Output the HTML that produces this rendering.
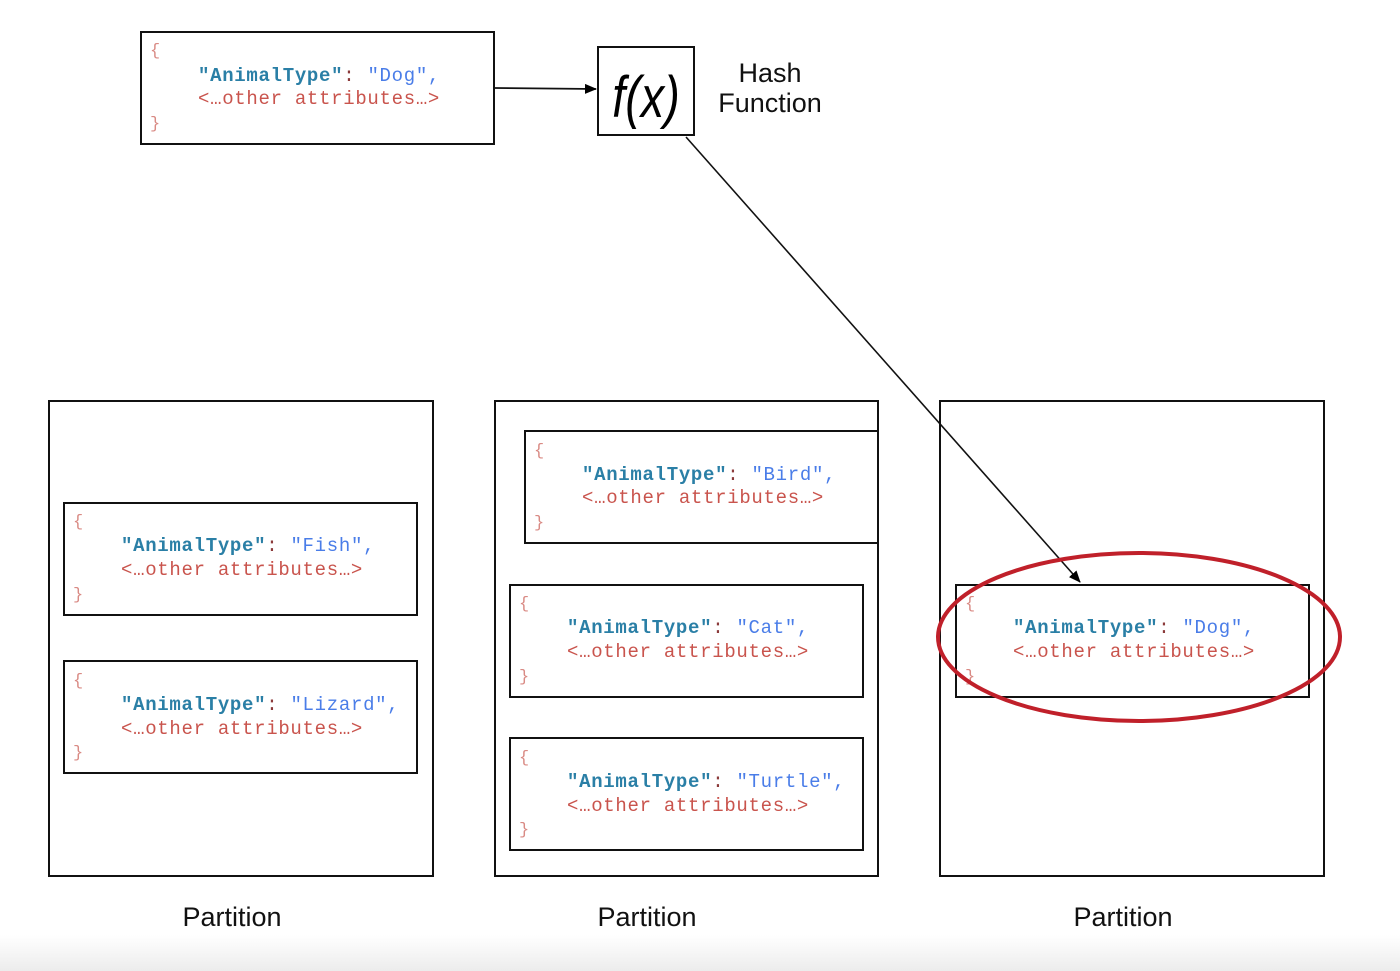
<!DOCTYPE html>
<html><head><meta charset="utf-8"><style>
html,body{margin:0;padding:0;background:#fff;}
svg{display:block}
.m{font-family:"Liberation Mono",monospace;font-size:19px;letter-spacing:0.7px;}
.k{fill:#2a7fa6;font-weight:bold}
.c{fill:#8b3a3a}
.v{fill:#4a7de8}
.r{fill:#c9544d}
.b{fill:#d98a84;font-size:17px}
.s{font-family:"Liberation Sans",sans-serif;font-size:27px;fill:#111;}
</style></head><body>
<svg width="1400" height="971" viewBox="0 0 1400 971" xmlns="http://www.w3.org/2000/svg">
<defs>
<linearGradient id="g" x1="0" y1="0" x2="0" y2="1">
<stop offset="0" stop-color="#ffffff"/><stop offset="1" stop-color="#ececec"/>
</linearGradient>
<marker id="a" markerWidth="12" markerHeight="10" refX="11" refY="5" orient="auto" markerUnits="userSpaceOnUse">
<path d="M0,0 L12,5 L0,10 z" fill="#000"/>
</marker>
</defs>
<rect width="1400" height="971" fill="#fff"/>
<rect y="935" width="1400" height="36" fill="url(#g)"/>

<g fill="none" stroke="#111" stroke-width="2">
<rect x="49" y="401" width="384" height="475"/>
<rect x="495" y="401" width="383" height="475"/>
<rect x="940" y="401" width="384" height="475"/>
<rect x="141" y="32" width="353" height="112"/>
<rect x="64" y="503" width="353" height="112"/>
<rect x="64" y="661" width="353" height="112"/>
<rect x="525" y="431" width="353" height="112"/>
<rect x="510" y="585" width="353" height="112"/>
<rect x="510" y="738" width="353" height="112"/>
<rect x="956" y="585" width="353" height="112"/>
<rect x="598" y="47" width="96" height="88"/>
</g>

<g class="m">
<text x="150" y="55" class="b">{</text>
<text x="198" y="81"><tspan class="k">"AnimalType"</tspan><tspan class="c">: </tspan><tspan class="v">"Dog",</tspan></text>
<text x="198" y="104" class="r">&lt;…other attributes…&gt;</text>
<text x="150" y="128" class="b">}</text>

<text x="73" y="526" class="b">{</text>
<text x="121" y="551"><tspan class="k">"AnimalType"</tspan><tspan class="c">: </tspan><tspan class="v">"Fish",</tspan></text>
<text x="121" y="575" class="r">&lt;…other attributes…&gt;</text>
<text x="73" y="599" class="b">}</text>

<text x="73" y="685" class="b">{</text>
<text x="121" y="710"><tspan class="k">"AnimalType"</tspan><tspan class="c">: </tspan><tspan class="v">"Lizard",</tspan></text>
<text x="121" y="734" class="r">&lt;…other attributes…&gt;</text>
<text x="73" y="757" class="b">}</text>

<text x="534" y="455" class="b">{</text>
<text x="582" y="480"><tspan class="k">"AnimalType"</tspan><tspan class="c">: </tspan><tspan class="v">"Bird",</tspan></text>
<text x="582" y="503" class="r">&lt;…other attributes…&gt;</text>
<text x="534" y="527" class="b">}</text>

<text x="519" y="608" class="b">{</text>
<text x="567" y="633"><tspan class="k">"AnimalType"</tspan><tspan class="c">: </tspan><tspan class="v">"Cat",</tspan></text>
<text x="567" y="657" class="r">&lt;…other attributes…&gt;</text>
<text x="519" y="681" class="b">}</text>

<text x="519" y="762" class="b">{</text>
<text x="567" y="787"><tspan class="k">"AnimalType"</tspan><tspan class="c">: </tspan><tspan class="v">"Turtle",</tspan></text>
<text x="567" y="811" class="r">&lt;…other attributes…&gt;</text>
<text x="519" y="834" class="b">}</text>

<text x="965" y="608" class="b">{</text>
<text x="1013" y="633"><tspan class="k">"AnimalType"</tspan><tspan class="c">: </tspan><tspan class="v">"Dog",</tspan></text>
<text x="1013" y="657" class="r">&lt;…other attributes…&gt;</text>
<text x="965" y="681" class="b">}</text>
</g>

<text transform="translate(646,117) scale(0.9,1.12)" text-anchor="middle" font-family="Liberation Sans,sans-serif" font-style="italic" font-size="52" fill="#000">f(x)</text>
<text x="770" y="82" text-anchor="middle" class="s">Hash</text>
<text x="770" y="112" text-anchor="middle" class="s">Function</text>

<text x="232" y="926" text-anchor="middle" class="s">Partition</text>
<text x="647" y="926" text-anchor="middle" class="s">Partition</text>
<text x="1123" y="926" text-anchor="middle" class="s">Partition</text>

<line x1="494" y1="88" x2="596" y2="89" stroke="#111" stroke-width="1.8" marker-end="url(#a)"/>
<line x1="686" y1="137" x2="1080" y2="582" stroke="#111" stroke-width="1.6" marker-end="url(#a)"/>

<ellipse cx="1139" cy="637" rx="201" ry="84" fill="none" stroke="#c0202a" stroke-width="4"/>
</svg>
</body></html>
